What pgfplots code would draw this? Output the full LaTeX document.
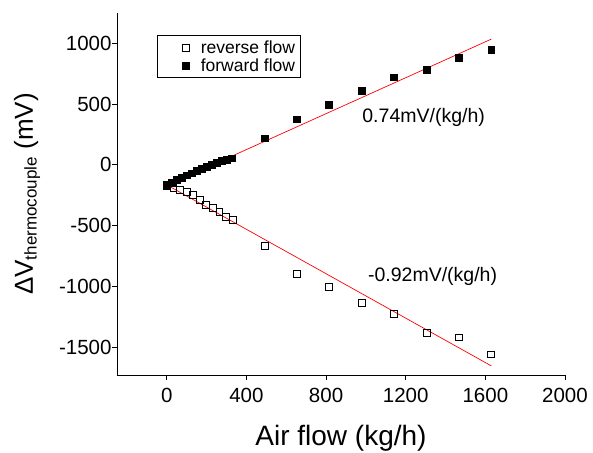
\documentclass[border=0pt]{standalone}
\usepackage{pgfplots}
\pgfplotsset{compat=1.18}
\usepackage{fontspec}
\setmainfont{Liberation Sans}

\begin{document}
\begin{tikzpicture}
\begin{axis}[
    scale only axis,
    width=448pt, height=362pt,
    xmin=-250, xmax=2000, ymin=-1730, ymax=1250,
    axis x line*=bottom, axis y line*=left,
    axis line style={-, black, line width=0.8pt},
    xtick={0,400,800,1200,1600,2000},
    ytick={-1500,-1000,-500,0,500,1000},
    tick align=outside, major tick length=5pt,
    tick style={black, line width=0.8pt},
    /pgf/number format/assume math mode=true,
    /pgf/number format/set thousands separator={},
    tick label style={font=\fontsize{20.5}{23}\selectfont},
    xticklabel style={yshift=-5pt},
    yticklabel style={xshift=3pt},
    xlabel={Air flow (kg/h)},
    ylabel={ΔV\textsubscript{\fontsize{17}{18}\selectfont thermocouple} (mV)},
    label style={font=\fontsize{26}{30}\selectfont},
    xlabel style={at={([yshift=-70pt]rel axis cs:0.5,0)}, anchor=base, font=\fontsize{28}{32}\selectfont},
    ylabel style={at={([xshift=-84pt]rel axis cs:0,0.5)}, anchor=base, rotate=0},
    legend style={font=\fontsize{17.5}{20.5}\selectfont, at={(0.089,0.939)}, anchor=north west,
      draw=black, line width=0.6pt, inner xsep=3pt, inner ysep=3pt, row sep=0pt},
    legend image code/.code={\draw[#1] plot coordinates {(0pt,0pt)}; \path (-25pt,0pt) (13pt,0pt);},
    legend cell align=left,
    clip=false,
]
\addplot[only marks, mark=square, mark size=3.4pt, mark options={fill=white, line width=0.7pt}, black]
coordinates {
(0,-170) (33,-192) (66,-205) (99,-220) (132,-245) (165,-290) (198,-328) (231,-352) (264,-385) (297,-425) (330,-455)
(491,-665) (654,-895) (815,-1005) (980,-1134) (1141,-1225) (1306,-1381) (1467,-1420) (1629,-1560)
};
\addlegendentry{reverse flow}
\addplot[only marks, mark=square*, mark size=3.4pt, black]
coordinates {
(0,-165) (25,-145) (50,-125) (75,-105) (100,-85) (125,-68) (150,-50) (175,-32) (200,-15) (225,0) (250,18) (275,33) (300,45) (325,55)
(491,220) (654,376) (815,494) (980,612) (1141,722) (1306,780) (1467,884) (1629,950)
};
\addlegendentry{forward flow}
\addplot[red, line width=0.7pt, forget plot] coordinates {(0,-170) (1630,1035)};
\addplot[red, line width=0.7pt, forget plot] coordinates {(0,-165) (1630,-1655)};
\node[font=\fontsize{19.5}{22}\selectfont] at (axis cs:1290,390) {0.74mV/(kg/h)};
\node[font=\fontsize{19.5}{22}\selectfont] at (axis cs:1335,-920) {-0.92mV/(kg/h)};
\coordinate (ax0) at (rel axis cs:0,0);
\end{axis}
\pgfresetboundingbox
\useasboundingbox ([shift={(-117pt,-77pt)}]ax0) rectangle ([shift={(476pt,375pt)}]ax0);
\end{tikzpicture}
\end{document}
